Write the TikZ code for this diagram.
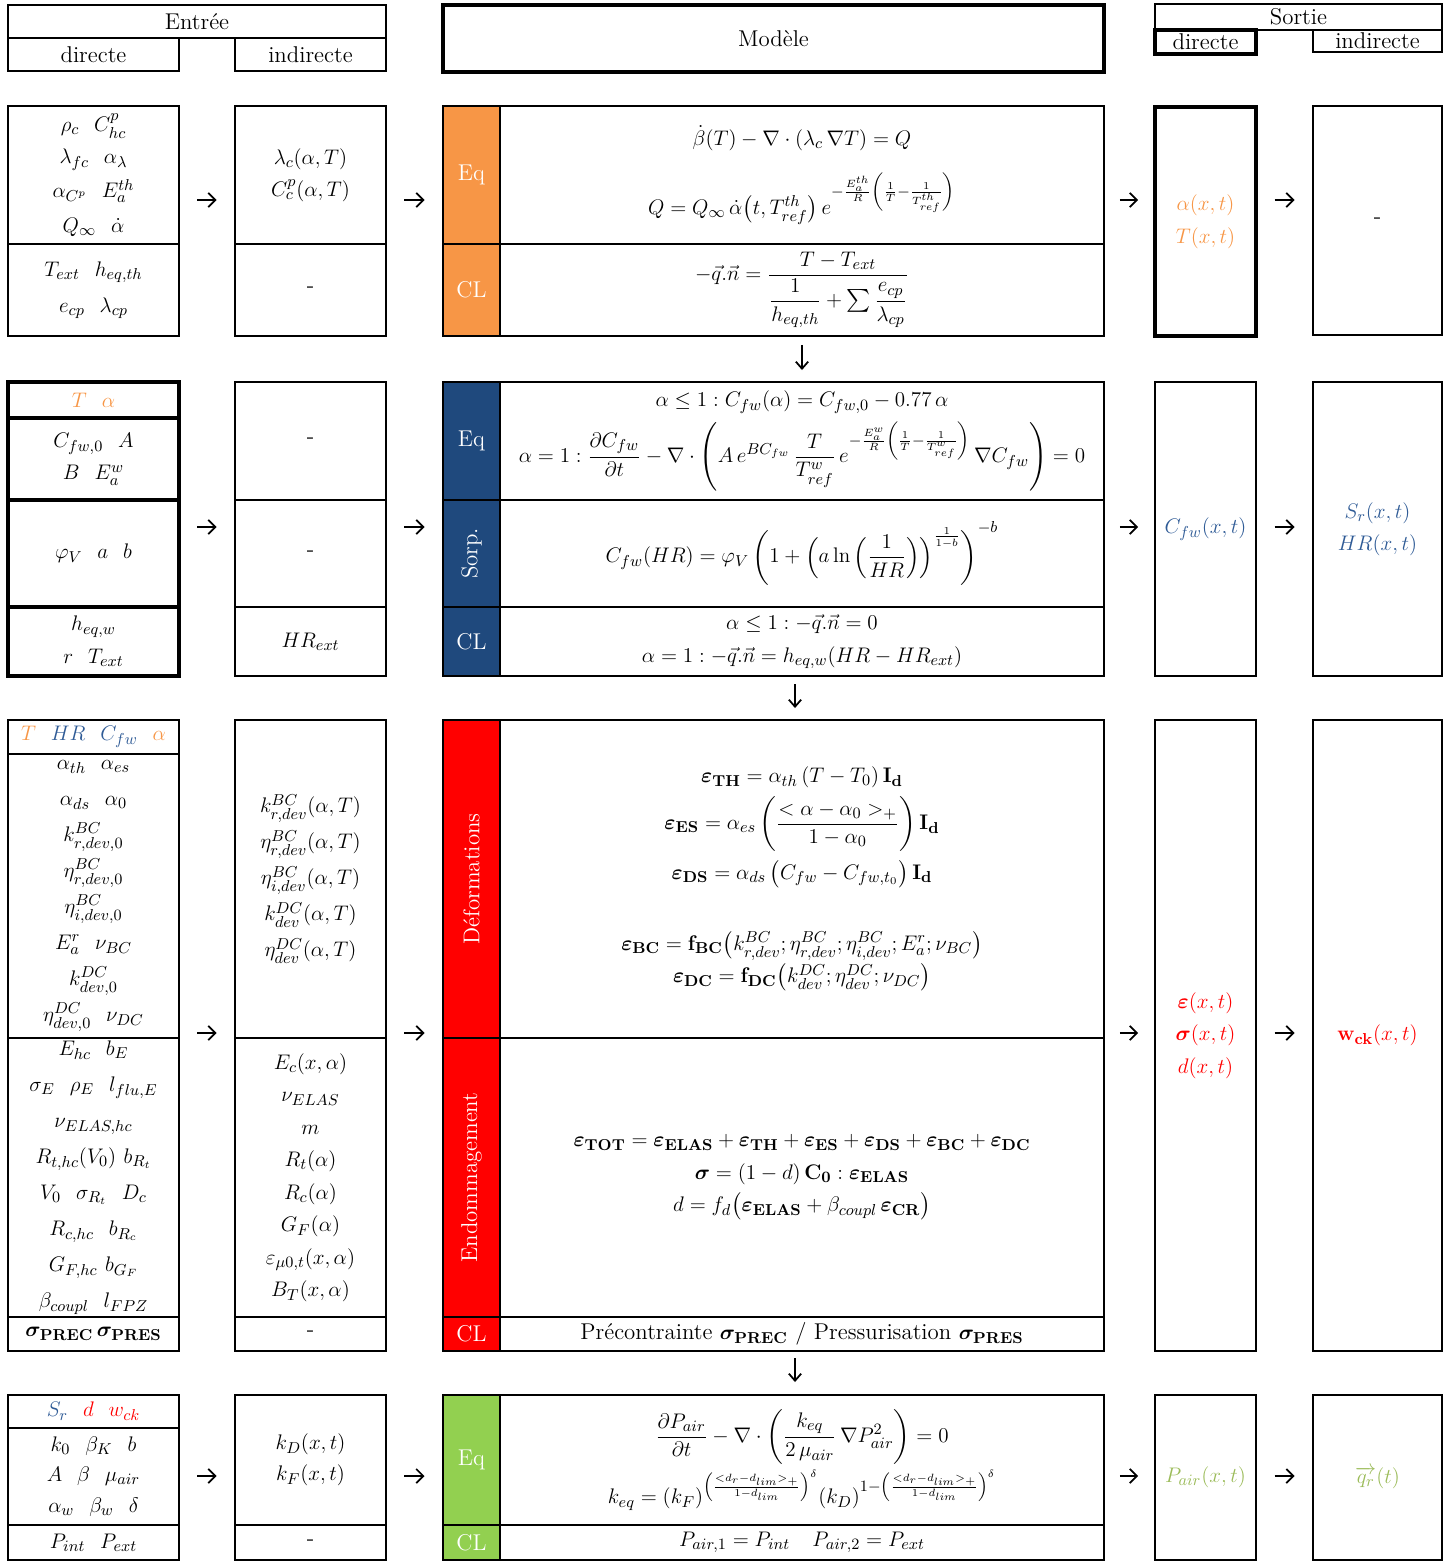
\documentclass[tikz,border=0pt]{standalone}
\usepackage{amsmath, amssymb}
\usepackage{bm}
\usepackage{xcolor}
\usepackage{tikz}
\usetikzlibrary{arrows.meta, positioning, calc}

\definecolor{orangeM}{HTML}{F79646}
\definecolor{blueM}{HTML}{1F497D}
\definecolor{blueT}{HTML}{2F5B96}
\definecolor{redM}{HTML}{FF0000}
\definecolor{greenM}{HTML}{92D050}
\definecolor{greenT}{HTML}{9BBB59}

\newcommand{\beps}[1]{\bm{\varepsilon}_{\mathbf{#1}}}
\newcommand{\bsig}[1]{\bm{\sigma}_{\mathbf{#1}}}

\begin{document}
\begin{tikzpicture}[
    x=0.02cm, y=-0.02cm,
    font=\fontsize{13}{18.5}\selectfont,
    cell/.style={draw, line width=1.1pt, inner sep=0pt, outer sep=0pt, align=center},
    thickcell/.style={cell, line width=1.8pt},
    strip/.style={cell, text=white, minimum width=1.14cm},
    vlabel/.style={rotate=90, text=white},
    spaced/.style={font=\fontsize{13}{20.5}\selectfont},
    indir/.style={minimum width=3.02cm},
    dir/.style={minimum width=3.42cm},
    model/.style={minimum width=12.08cm},
    sdir/.style={minimum width=2.02cm},
    sindir/.style={minimum width=2.58cm},
    arrow/.style={-{Straight Barb[length=4pt, width=8pt]}, line width=1pt, shorten <=0.37cm, shorten >=0.37cm},
    down/.style={-{Straight Barb[length=4pt, width=7pt]}, line width=1pt}
]
    \useasboundingbox (0,0) rectangle (1452,1562);

    % headers
    \node[cell, minimum width=7.56cm, minimum height=0.66cm] (hE) at (197,21.5) {Entrée};
    \node[cell, dir, minimum height=0.66cm] (hEd) at (93.5,54.5) {directe};
    \node[cell, indir, minimum height=0.66cm] (hEi) at (310.5,54.5) {indirecte};
    \node[thickcell, minimum width=13.22cm, minimum height=1.34cm] (hM) at (773.5,38.5) {Modèle};
    \node[cell, minimum width=5.74cm, minimum height=0.52cm] (hS) at (1298.5,17) {Sortie};
    \node[thickcell, sdir, minimum height=0.48cm] (hSd) at (1205.5,42) {directe};
    \node[cell, sindir, minimum height=0.44cm] (hSi) at (1377.5,41) {indirecte};

    % bloc 1 : thermique
    \node[cell, dir, minimum height=2.76cm] (e1a) at (93.5,175) {$\rho_c\ \ C^p_{hc}$\\$\lambda_{fc}\ \ \alpha_\lambda$\\[1pt]$\alpha_{C^p}\ \ E^{th}_a$\\[1pt]$Q_\infty\ \ \dot{\alpha}$};
    \node[cell, dir, minimum height=1.84cm] (e1b) at (93.5,290) {$T_{ext}\ \ h_{eq,th}$\\[2pt]$e_{cp}\ \ \lambda_{cp}$};
    \node[cell, indir, minimum height=2.76cm] (i1a) at (310.5,175) {$\lambda_c(\alpha,T)$\\$C^p_c(\alpha,T)$};
    \node[cell, indir, minimum height=1.84cm] (i1b) at (310.5,290) {-};
    \node[strip, fill=orangeM, minimum height=2.76cm] (m1s1) at (471.5,175) {Eq};
    \node[strip, fill=orangeM, minimum height=1.84cm] (m1s2) at (471.5,290) {CL};
    \node[cell, model, minimum height=2.76cm] (m1a) at (802,175) {$\dot{\beta}(T) - \nabla\cdot(\lambda_c\,\nabla T) = Q$\\[12pt]
        $Q = Q_\infty\,\dot{\alpha}\big(t, T^{th}_{ref}\big)\,e^{-\frac{E^{th}_a}{R}\left(\frac{1}{T}-\frac{1}{T^{th}_{ref}}\right)}$};
    \node[cell, model, minimum height=1.84cm] (m1b) at (802,290) {$-\vec{q}.\vec{n} = \dfrac{T - T_{ext}}{\dfrac{1}{h_{eq,th}} + \sum\dfrac{e_{cp}}{\lambda_{cp}}}$};
    \node[thickcell, sdir, text=orangeM, minimum height=4.58cm] (o1) at (1205.5,221.5) {$\alpha(x,t)$\\$T(x,t)$};
    \node[cell, sindir, minimum height=4.58cm] (p1) at (1377.5,220.5) {-};

    % bloc 2 : hydrique
    \node[thickcell, dir, minimum height=0.72cm] (e2h) at (93.5,400) {$\textcolor{orangeM}{T\ \ \alpha}$};
    \node[thickcell, dir, minimum height=1.64cm] (e2a) at (93.5,459) {$C_{fw,0}\ \ A$\\$B\ \ E^w_a$};
    \node[thickcell, dir, minimum height=2.14cm] (e2b) at (93.5,553.5) {$\varphi_V\ \ a\ \ b$};
    \node[thickcell, dir, minimum height=1.38cm] (e2c) at (93.5,641.5) {$h_{eq,w}$\\$r\ \ T_{ext}$};
    \node[cell, indir, minimum height=2.36cm] (i2a) at (310.5,441) {-};
    \node[cell, indir, minimum height=2.14cm] (i2b) at (310.5,553.5) {-};
    \node[cell, indir, minimum height=1.38cm] (i2c) at (310.5,641.5) {$HR_{ext}$};
    \node[strip, fill=blueM, minimum height=2.36cm] (m2s1) at (471.5,441) {Eq};
    \node[strip, fill=blueM, minimum height=2.14cm] (m2s2) at (471.5,553.5) {};
    \node[vlabel] (m2l2) at (m2s2.center) {Sorp.};
    \node[strip, fill=blueM, minimum height=1.38cm] (m2s3) at (471.5,641.5) {CL};
    \node[cell, model, minimum height=2.36cm] (m2a) at (802,441) {$\alpha \le 1 : C_{fw}(\alpha) = C_{fw,0} - 0.77\,\alpha$\\[4pt]
        $\alpha = 1 : \dfrac{\partial C_{fw}}{\partial t} - \nabla\cdot\left(A\,e^{BC_{fw}}\,\dfrac{T}{T^w_{ref}}\,e^{-\frac{E^w_a}{R}\left(\frac{1}{T}-\frac{1}{T^w_{ref}}\right)}\,\nabla C_{fw}\right) = 0$};
    \node[cell, model, minimum height=2.14cm] (m2b) at (802,553.5) {$C_{fw}(HR) = \varphi_V\left(1 + \left(a\ln\left(\dfrac{1}{HR}\right)\right)^{\frac{1}{1-b}}\right)^{-b}$};
    \node[cell, model, minimum height=1.38cm] (m2c) at (802,641.5) {$\alpha \le 1 : -\vec{q}.\vec{n} = 0$\\$\alpha = 1 : -\vec{q}.\vec{n} = h_{eq,w}(HR - HR_{ext})$};
    \node[cell, sdir, text=blueT, minimum height=5.88cm] (o2) at (1205.5,529) {$C_{fw}(x,t)$};
    \node[cell, sindir, text=blueT, minimum height=5.88cm] (p2) at (1377.5,529) {$S_r(x,t)$\\$HR(x,t)$};

    % bloc 3 : mecanique
    \node[cell, dir, minimum height=0.68cm] (e3h) at (93.5,737) {$\textcolor{orangeM}{T}\ \ \textcolor{blueT}{HR}\ \ \textcolor{blueT}{C_{fw}}\ \ \textcolor{orangeM}{\alpha}$};
    \node[cell, dir, spaced, minimum height=5.68cm] (e3a) at (93.5,896) {$\alpha_{th}\ \ \alpha_{es}$\\$\alpha_{ds}\ \ \alpha_0$\\$k^{BC}_{r,dev,0}$\\$\eta^{BC}_{r,dev,0}$\\$\eta^{BC}_{i,dev,0}$\\$E^r_a\ \ \nu_{BC}$\\$k^{DC}_{dev,0}$\\$\eta^{DC}_{dev,0}\ \ \nu_{DC}$};
    \node[cell, dir, spaced, minimum height=5.58cm] (e3b) at (93.5,1177.5) {$E_{hc}\ \ b_E$\\$\sigma_E\ \ \rho_E\ \ l_{flu,E}$\\$\nu_{ELAS,hc}$\\$R_{t,hc}(V_0)\ b_{R_t}$\\$V_0\ \ \sigma_{R_t}\ \ D_c$\\$R_{c,hc}\ \ b_{R_c}$\\$G_{F,hc}\ b_{G_F}$\\$\beta_{coupl}\ \ l_{FPZ}$};
    \node[cell, dir, minimum height=0.68cm] (e3c) at (93.5,1334) {$\bsig{PREC}\,\bsig{PRES}$};
    \node[cell, indir, spaced, minimum height=6.36cm] (i3a) at (310.5,879) {$k^{BC}_{r,dev}(\alpha,T)$\\$\eta^{BC}_{r,dev}(\alpha,T)$\\$\eta^{BC}_{i,dev}(\alpha,T)$\\$k^{DC}_{dev}(\alpha,T)$\\$\eta^{DC}_{dev}(\alpha,T)$};
    \node[cell, indir, minimum height=5.58cm] (i3b) at (310.5,1177.5) {$E_c(x,\alpha)$\\$\nu_{ELAS}$\\$m$\\$R_t(\alpha)$\\$R_c(\alpha)$\\$G_F(\alpha)$\\$\varepsilon_{\mu 0,t}(x,\alpha)$\\$B_T(x,\alpha)$};
    \node[cell, indir, minimum height=0.68cm] (i3c) at (310.5,1334) {-};
    \node[strip, fill=redM, minimum height=6.36cm] (m3s1) at (471.5,879) {};
    \node[vlabel] (m3l1) at (m3s1.center) {Déformations};
    \node[strip, fill=redM, minimum height=5.58cm] (m3s2) at (471.5,1177.5) {};
    \node[vlabel] (m3l2) at (m3s2.center) {Endommagement};
    \node[strip, fill=redM, minimum height=0.68cm] (m3s3) at (471.5,1334) {CL};
    \node[cell, model, minimum height=6.36cm] (m3a) at (802,879) {$\beps{TH} = \alpha_{th}\,(T - T_0)\,\mathbf{I}_{\mathbf{d}}$\\[4pt]
        $\beps{ES} = \alpha_{es}\left(\dfrac{<\alpha - \alpha_0>_+}{1 - \alpha_0}\right)\mathbf{I}_{\mathbf{d}}$\\[4pt]
        $\beps{DS} = \alpha_{ds}\,\big(C_{fw} - C_{fw,t_0}\big)\,\mathbf{I}_{\mathbf{d}}$\\[22pt]
        $\beps{BC} = \mathbf{f}_{\mathbf{BC}}\big(k^{BC}_{r,dev}; \eta^{BC}_{r,dev}; \eta^{BC}_{i,dev}; E^r_a; \nu_{BC}\big)$\\
        $\beps{DC} = \mathbf{f}_{\mathbf{DC}}\big(k^{DC}_{dev}; \eta^{DC}_{dev}; \nu_{DC}\big)$};
    \node[cell, model, minimum height=5.58cm] (m3b) at (802,1177.5) {$\beps{TOT} = \beps{ELAS} + \beps{TH} + \beps{ES} + \beps{DS} + \beps{BC} + \beps{DC}$\\
        $\bm{\sigma} = (1 - d)\,\mathbf{C}_{\mathbf{0}} : \beps{ELAS}$\\
        $d = f_d\big(\beps{ELAS} + \beta_{coupl}\,\beps{CR}\big)$};
    \node[cell, model, minimum height=0.68cm] (m3c) at (802,1334) {Précontrainte $\bsig{PREC}$ / Pressurisation $\bsig{PRES}$};
    \node[cell, sdir, text=redM, minimum height=12.62cm] (o3) at (1205.5,1035.5) {$\bm{\varepsilon}(x,t)$\\$\bm{\sigma}(x,t)$\\$d(x,t)$};
    \node[cell, sindir, text=redM, minimum height=12.62cm] (p3) at (1377.5,1035.5) {$\mathbf{w}_{\mathbf{ck}}(x,t)$};

    % bloc 4 : transfert d'air
    \node[cell, dir, minimum height=0.66cm] (e4h) at (93.5,1411.5) {$\textcolor{blueT}{S_r}\ \ \textcolor{redM}{d}\ \ \textcolor{redM}{w_{ck}}$};
    \node[cell, dir, font=\fontsize{13}{17.5}\selectfont, minimum height=1.94cm] (e4a) at (93.5,1476.5) {$k_0\ \ \beta_K\ \ b$\\$A\ \ \beta\ \ \mu_{air}$\\$\alpha_w\ \ \beta_w\ \ \delta$};
    \node[cell, dir, minimum height=0.70cm] (e4b) at (93.5,1542.5) {$P_{int}\ \ P_{ext}$};
    \node[cell, indir, font=\fontsize{13}{17.5}\selectfont, minimum height=2.60cm] (i4a) at (310.5,1460) {$k_D(x,t)$\\$k_F(x,t)$};
    \node[cell, indir, minimum height=0.70cm] (i4b) at (310.5,1542.5) {-};
    \node[strip, fill=greenM, minimum height=2.60cm] (m4s1) at (471.5,1460) {Eq};
    \node[strip, fill=greenM, minimum height=0.70cm] (m4s2) at (471.5,1542.5) {CL};
    \node[cell, model, minimum height=2.60cm] (m4a) at (802,1460) {$\dfrac{\partial P_{air}}{\partial t} - \nabla\cdot\left(\dfrac{k_{eq}}{2\,\mu_{air}}\,\nabla P^2_{air}\right) = 0$\\[2pt]
        $k_{eq} = (k_F)^{\left(\frac{<d_r - d_{lim}>_+}{1 - d_{lim}}\right)^{\delta}}(k_D)^{1-\left(\frac{<d_r - d_{lim}>_+}{1 - d_{lim}}\right)^{\delta}}$};
    \node[cell, model, minimum height=0.70cm] (m4b) at (802,1542.5) {$P_{air,1} = P_{int}\ \ \ P_{air,2} = P_{ext}$};
    \node[cell, sdir, text=greenT, minimum height=3.30cm] (o4) at (1205.5,1477.5) {$P_{air}(x,t)$};
    \node[cell, sindir, text=greenT, minimum height=3.30cm] (p4) at (1377.5,1477.5) {$\overrightarrow{q_r}(t)$};

    % fleches
    \coordinate (y1) at (0,200);
    \coordinate (y2) at (0,527);
    \coordinate (y3) at (0,1033);
    \coordinate (y4) at (0,1476);

    \draw[arrow] (e1a.east |- y1) -- (i1a.west |- y1);
    \draw[arrow] (i1a.east |- y1) -- (m1s1.west |- y1);
    \draw[arrow, shorten <=0.32cm, shorten >=0.34cm] (m1a.east |- y1) -- (o1.west |- y1);
    \draw[arrow] (o1.east |- y1) -- (p1.west |- y1);

    \draw[arrow] (e2b.east |- y2) -- (i2b.west |- y2);
    \draw[arrow] (i2b.east |- y2) -- (m2s2.west |- y2);
    \draw[arrow, shorten <=0.32cm, shorten >=0.34cm] (m2b.east |- y2) -- (o2.west |- y2);
    \draw[arrow] (o2.east |- y2) -- (p2.west |- y2);

    \draw[arrow] (e3a.east |- y3) -- (i3a.west |- y3);
    \draw[arrow] (i3a.east |- y3) -- (m3s1.west |- y3);
    \draw[arrow, shorten <=0.32cm, shorten >=0.34cm] (m3a.east |- y3) -- (o3.west |- y3);
    \draw[arrow] (o3.east |- y3) -- (p3.west |- y3);

    \draw[arrow] (e4a.east |- y4) -- (i4a.west |- y4);
    \draw[arrow] (i4a.east |- y4) -- (m4s1.west |- y4);
    \draw[arrow, shorten <=0.32cm, shorten >=0.34cm] (m4a.east |- y4) -- (o4.west |- y4);
    \draw[arrow] (o4.east |- y4) -- (p4.west |- y4);

    \draw[down, shorten <=0.18cm, shorten >=0.24cm] (m1b.south) -- (m1b.south |- m2a.north);
    \draw[down, shorten <=0.16cm, shorten >=0.24cm] ([xshift=-0.14cm]m2c.south) -- ([xshift=-0.14cm]m2c.south |- m3a.north);
    \draw[down, shorten <=0.14cm, shorten >=0.26cm] ([xshift=-0.14cm]m3c.south) -- ([xshift=-0.14cm]m3c.south |- m4a.north);
\end{tikzpicture}
\end{document}
